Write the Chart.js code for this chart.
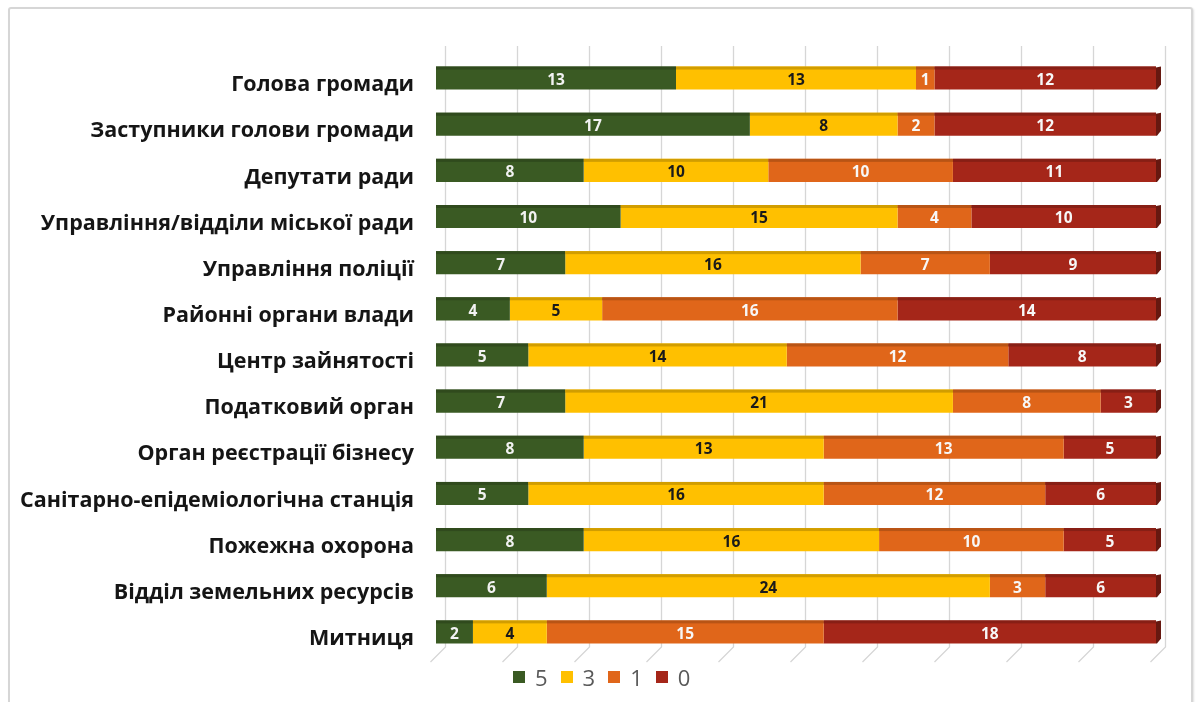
<!DOCTYPE html>
<html>
<head>
<meta charset="utf-8">
<script src="https://cdn.jsdelivr.net/npm/chart.js@4.4.1/dist/chart.umd.min.js"></script>
<style>
  html, body { margin: 0; padding: 0; background: #fff; }
  #wrap { position: relative; width: 1197px; height: 702px; overflow: hidden; }
  #frame {
    position: absolute; left: 8px; top: 7px; width: 1181px; height: 740px;
    border: 2px solid #d6d6d6; border-radius: 3px;
    box-shadow: 1px 1px 2px rgba(0,0,0,0.12);
  }
  #c { position: absolute; left: 0; top: 0; }
  #legend {
    position: absolute; left: 513px; top: 662px;
    display: flex; align-items: center;
    font: 22px 'Open Sans', sans-serif; color: #595959;
  }
  #legend .item { display: flex; align-items: center; margin-right: 13px; }
  #legend .box { width: 12px; height: 12px; margin-right: 10px; }
</style>
</head>
<body>
<div id="wrap">
  <div id="frame"></div>
  <canvas id="c" width="1197" height="702"></canvas>
  <div id="legend"></div>
</div>
<script>
// rows, top to bottom
const categories = [
  'Голова громади',
  'Заступники голови громади',
  'Депутати ради',
  'Управління/відділи міської ради',
  'Управління поліції',
  'Районні органи влади',
  'Центр зайнятості',
  'Податковий орган',
  'Орган реєстрації бізнесу',
  'Санітарно-епідеміологічна станція',
  'Пожежна охорона',
  'Відділ земельних ресурсів',
  'Митниця',
];

const seriesNames = ['5', '3', '1', '0'];
const score5 = [13, 17, 8, 10, 7, 4, 5, 7, 8, 5, 8, 6, 2];
const score3 = [13, 8, 10, 15, 16, 5, 14, 21, 13, 16, 16, 24, 4];
const score1 = [1, 2, 10, 4, 7, 16, 12, 8, 13, 12, 10, 3, 15];
const score0 = [12, 12, 11, 10, 9, 14, 8, 3, 5, 6, 5, 6, 18];

const colors     = ['#3A5A23', '#FFC000', '#E0661A', '#A52619'];
const labelInk   = ['#f2f2f2', '#1a1a1a', '#f7f7f7', '#f7f7f7'];

const totalMax = 39;   // every row sums to 39 respondents

function shade(hex, f) {
  const n = parseInt(hex.slice(1), 16);
  const r = Math.round(((n >> 16) & 255) * f);
  const g = Math.round(((n >> 8) & 255) * f);
  const b = Math.round((n & 255) * f);
  return `rgb(${r},${g},${b})`;
}

// back wall + floor grid of the 3D chart
const wallGrid = {
  id: 'wallGrid',
  beforeDatasetsDraw(chart) {
    const { ctx, chartArea: a, scales: { x } } = chart;
    ctx.save();
    ctx.strokeStyle = '#d6d6d6';
    ctx.lineWidth = 1.3;
    x.ticks.forEach(t => {
      const px = Math.round(x.getPixelForValue(t.value)) + 9.5;
      ctx.beginPath();
      ctx.moveTo(px, a.top - 9);
      ctx.lineTo(px, a.bottom - 8);
      ctx.lineTo(px - 15, a.bottom + 7);
      ctx.stroke();
    });
    ctx.restore();
  },
};

// top face, end cap and value labels
const barDecor = {
  id: 'barDecor',
  afterDatasetsDraw(chart) {
    const { ctx } = chart;
    const last = chart.data.datasets.length - 1;
    ctx.save();
    chart.data.datasets.forEach((ds, di) => {
      const meta = chart.getDatasetMeta(di);
      meta.data.forEach((bar, i) => {
        const { x, y, base, height } = bar.getProps(['x', 'y', 'base', 'height'], true);
        const top = y - height / 2;
        const bottom = y + height / 2;
        ctx.fillStyle = shade(colors[di], 0.82);
        ctx.fillRect(base, top, x - base, 3);
        if (di === last) {
          ctx.fillStyle = shade(colors[di], 0.62);
          ctx.beginPath();
          ctx.moveTo(x, top + 1);
          ctx.lineTo(x + 5, top);
          ctx.lineTo(x + 5, bottom - 5);
          ctx.lineTo(x + 1, bottom);
          ctx.lineTo(x, bottom);
          ctx.closePath();
          ctx.fill();
        }
        const v = ds.data[i];
        if (!v) return;
        ctx.fillStyle = labelInk[di];
        ctx.font = "bold 15.5px 'Open Sans', sans-serif";
        ctx.textAlign = 'center';
        ctx.textBaseline = 'middle';
        ctx.fillText(String(v), (x + base) / 2, y + 2.5);
      });
    });
    ctx.restore();
  },
};

const seriesData = [score5, score3, score1, score0];

new Chart(document.getElementById('c'), {
  type: 'bar',
  data: {
    labels: categories,
    datasets: seriesNames.map((name, k) => ({
      label: name,
      data: seriesData[k],
      backgroundColor: colors[k],
      borderWidth: 0,
      categoryPercentage: 1,
      barPercentage: 0.5,
    })),
  },
  options: {
    indexAxis: 'y',
    responsive: false,
    animation: false,
    devicePixelRatio: 1,
    layout: { padding: { left: 10, top: 55, right: 41, bottom: 47 } },
    plugins: {
      legend: { display: false },
      tooltip: { enabled: false },
    },
    scales: {
      x: {
        stacked: true,
        min: 0, max: totalMax,
        display: false,
        ticks: { stepSize: totalMax / 10 },
      },
      y: {
        stacked: true,
        grid: { display: false, drawTicks: false },
        border: { display: false },
        ticks: {
          color: '#151515',
          padding: 22,
          labelOffset: 7,
          font: { family: "'Open Sans', sans-serif", size: 21.5, weight: 'bold' },
        },
        afterFit: (scale) => { scale.width = 426; },
      },
    },
  },
  plugins: [wallGrid, barDecor],
});

// legend
const legendEl = document.getElementById('legend');
seriesNames.forEach((name, k) => {
  const item = document.createElement('div');
  item.className = 'item';
  const box = document.createElement('span');
  box.className = 'box';
  box.style.background = colors[k];
  const txt = document.createElement('span');
  txt.textContent = name;
  item.appendChild(box);
  item.appendChild(txt);
  legendEl.appendChild(item);
});
</script>
</body>
</html>
